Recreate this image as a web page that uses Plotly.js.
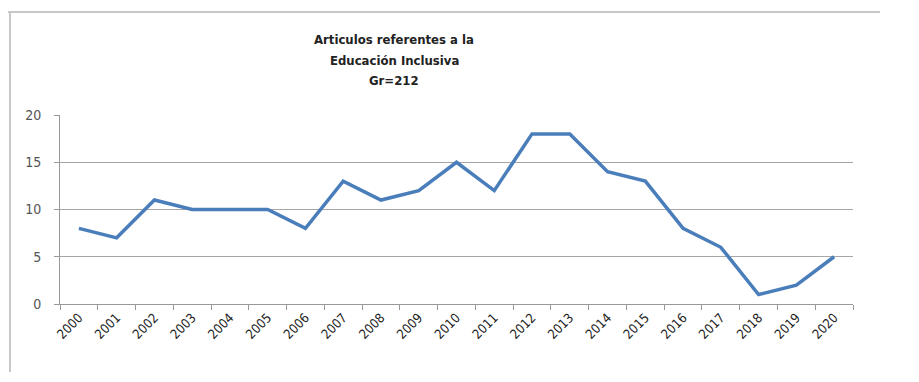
<!DOCTYPE html>
<html>
<head>
<meta charset="utf-8">
<script src="https://cdn.plot.ly/plotly-3.0.1.min.js"></script>
<style>html,body{margin:0;padding:0;background:#fff;}#chart{width:919px;height:382px;}</style>
</head>
<body>
<div id="chart"></div>
<script>
const years = ["2000","2001","2002","2003","2004","2005","2006","2007","2008","2009","2010","2011","2012","2013","2014","2015","2016","2017","2018","2019","2020"];
const articles = [8,7,11,10,10,10,8,13,11,12,15,12,18,18,14,13,8,6,1,2,5];
const titleLines = ["Articulos referentes a la","Educación Inclusiva","Gr=212"];
const yTicks = [0,5,10,15,20];

const titleFont = {family:"'DejaVu Sans Condensed', 'Liberation Sans', Arial, sans-serif", size:13, color:"#222"};
const titleY = [39, 60, 81];

const trace = {
  x: years, y: articles, type:"scatter", mode:"lines",
  line:{color:"#4a7ebb", width:3.5},
  hoverinfo:"skip"
};

const layout = {
  width:919, height:382,
  margin:{l:60, r:66, t:115, b:78},
  paper_bgcolor:"#fff", plot_bgcolor:"#fff",
  showlegend:false,
  xaxis:{
    type:"category", range:[-0.5,20.5],
    tickson:"boundaries", ticks:"outside", ticklen:5, tickcolor:"#999",
    showline:true, linecolor:"#999", linewidth:1,
    showgrid:false, tickangle:-45,
    tickfont:{family:"'DejaVu Sans Condensed', 'Liberation Sans', Arial, sans-serif", size:13, color:"#222"}
  },
  yaxis:{
    range:[0,20], tickvals:yTicks, ticktext:yTicks.map(String),
    showgrid:true, gridcolor:"#a6a6a6", gridwidth:1,
    showline:true, linecolor:"#999", linewidth:1,
    ticks:"outside", ticklen:5, tickcolor:"#999",
    ticklabelstandoff:10,
    zeroline:false, fixedrange:true,
    tickfont:{family:"'DejaVu Sans Condensed', 'Liberation Sans', Arial, sans-serif", size:14, color:"#555"}
  },
  annotations: titleLines.map((t,i)=>({
    text:"<b>"+t+"</b>", xref:"paper", yref:"paper",
    x:(394-60)/793, y:1+(115-titleY[i])/189,
    xanchor:"center", yanchor:"middle", showarrow:false, font:titleFont
  })),
  shapes:[
    {type:"line", xref:"paper", yref:"paper", x0:(8-60)/793, x1:(880-60)/793, y0:1+(115-12)/189, y1:1+(115-12)/189, line:{color:"#c8c8c8", width:2}},
    {type:"line", xref:"paper", yref:"paper", x0:(10-60)/793, x1:(10-60)/793, y0:1+(115-12)/189, y1:-(372-304)/189, line:{color:"#c8c8c8", width:2}}
  ]
};

Plotly.newPlot("chart",[trace],layout,{displayModeBar:false, staticPlot:true});
</script>
</body>
</html>
